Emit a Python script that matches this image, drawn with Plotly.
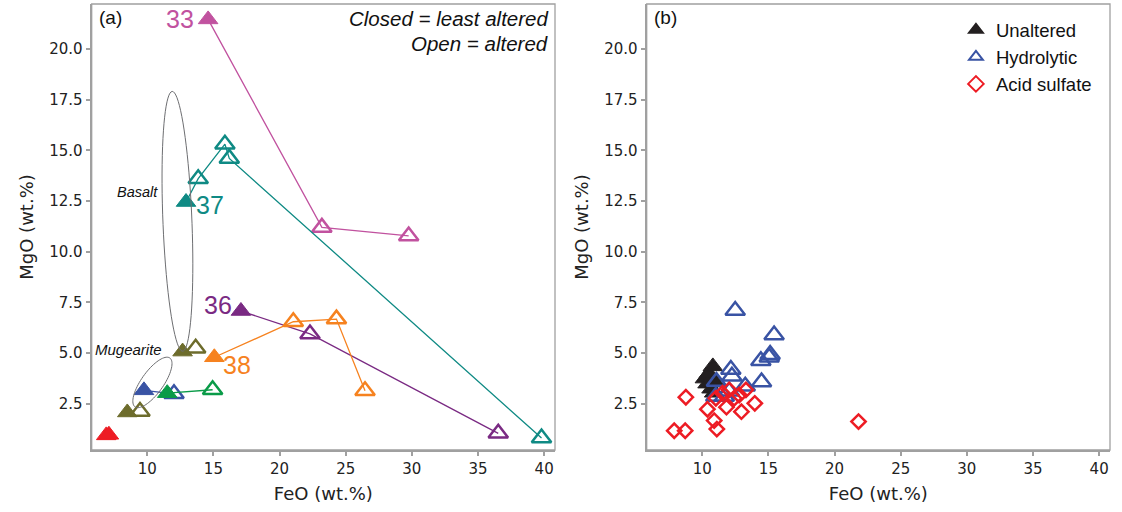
import numpy as np
import plotly.graph_objects as go

# ---------------- data: panel (a) ----------------
# each sample suite: least-altered (closed) point, then altered (open) points, in line order
s33_feo = [14.6, 23.2, 29.76]
s33_mgo = [21.45, 11.2, 10.78]
s37_feo = [12.93, 13.85, 15.87, 16.2, 39.8]
s37_mgo = [12.45, 13.6, 15.3, 14.6, 0.82]
s36_feo = [17.08, 22.3, 36.53]
s36_mgo = [7.08, 5.95, 1.05]
s38_feo = [15.07, 21.04, 24.3, 26.46]
s38_mgo = [4.8, 6.55, 6.68, 3.15]
olv1_feo = [12.67, 13.66]
olv1_mgo = [5.08, 5.24]
olv2_feo = [8.49, 9.45]
olv2_mgo = [2.08, 2.13]
blue_feo = [9.75, 12.02]
blue_mgo = [3.17, 3.0]
green_feo = [11.51, 14.94]
green_mgo = [3.03, 3.2]
red_feo = [6.9, 7.1]
red_mgo = [0.95, 0.98]

# ---------------- data: panel (b) ----------------
unalt_feo = [10.2, 10.5, 10.8, 10.7, 11.0, 10.9, 10.4]
unalt_mgo = [3.75, 4.0, 4.35, 3.25, 3.55, 3.05, 3.5]
hydro_feo = [12.49, 15.43, 15.13, 15.06, 14.43, 14.48, 12.16, 12.24, 13.25, 11.07, 11.02, 12.04, 11.67]
hydro_mgo = [7.1, 5.9, 4.93, 4.8, 4.63, 3.58, 4.2, 3.86, 3.37, 3.6, 2.87, 3.12, 2.87]
acid_feo = [8.76, 7.88, 8.71, 10.39, 10.9, 11.1, 11.03, 11.83, 12.96, 13.97, 12.03, 12.79, 13.3, 12.41, 11.53, 21.81]
acid_mgo = [2.83, 1.18, 1.18, 2.24, 1.68, 1.26, 2.78, 2.34, 2.12, 2.53, 3.19, 2.94, 3.19, 2.78, 3.03, 1.63]

x_ticks = [10, 15, 20, 25, 30, 35, 40]
y_ticks = [2.5, 5.0, 7.5, 10.0, 12.5, 15.0, 17.5, 20.0]

# ---------------- layout constants ----------------
W, H = 1122, 512
XR = [5.8, 40.82]
YR = [0.23, 22.21]
DOM_A = [91.7 / W, 555 / W]
DOM_B = [646.7 / W, 1110 / W]
DOM_Y = [1 - 450 / H, 1 - 4 / H]

px_per_x = (DOM_A[1] - DOM_A[0]) * W / (XR[1] - XR[0])
px_per_y = (DOM_Y[1] - DOM_Y[0]) * H / (YR[1] - YR[0])

C = dict(m="#c1529f", teal="#0f8a84", purple="#7a2a83", orange="#f6821f",
         olive="#6d6c2c", blue="#3953a4", green="#0a9b48", red="#ed1c24",
         black="#231f20")

fig = go.Figure()

TRI = 17
LW = 2.5


def suite(feo, mgo, color, line=True):
    if line:
        fig.add_trace(go.Scatter(x=feo, y=mgo, mode="lines", line=dict(color=color, width=1.3),
                                 showlegend=False, hoverinfo="skip", xaxis="x", yaxis="y"))
    fig.add_trace(go.Scatter(x=feo[1:], y=mgo[1:], mode="markers",
                             marker=dict(symbol="triangle-up-open", size=TRI, color=color,
                                         line=dict(color=color, width=LW)),
                             showlegend=False, xaxis="x", yaxis="y"))
    fig.add_trace(go.Scatter(x=feo[:1], y=mgo[:1], mode="markers",
                             marker=dict(symbol="triangle-up", size=TRI, color=color,
                                         line=dict(color=color, width=1)),
                             showlegend=False, xaxis="x", yaxis="y"))


suite(s33_feo, s33_mgo, C["m"])
suite(s37_feo, s37_mgo, C["teal"])
suite(s36_feo, s36_mgo, C["purple"])
suite(s38_feo, s38_mgo, C["orange"])
suite(olv1_feo, olv1_mgo, C["olive"], line=False)
suite(olv2_feo, olv2_mgo, C["olive"], line=False)
suite(blue_feo, blue_mgo, C["blue"])
suite(green_feo, green_mgo, C["green"])
fig.add_trace(go.Scatter(x=red_feo, y=red_mgo, mode="markers",
                         marker=dict(symbol="triangle-up", size=TRI, color=C["red"],
                                     line=dict(color=C["red"], width=1)),
                         showlegend=False, xaxis="x", yaxis="y"))

# panel (b)
fig.add_trace(go.Scatter(x=unalt_feo, y=unalt_mgo, mode="markers", name="Unaltered",
                         marker=dict(symbol="triangle-up", size=TRI, color=C["black"],
                                     line=dict(color=C["black"], width=1)),
                         xaxis="x2", yaxis="y2"))
fig.add_trace(go.Scatter(x=hydro_feo, y=hydro_mgo, mode="markers", name="Hydrolytic",
                         marker=dict(symbol="triangle-up-open", size=TRI, color=C["blue"],
                                     line=dict(color=C["blue"], width=LW)),
                         xaxis="x2", yaxis="y2"))
fig.add_trace(go.Scatter(x=acid_feo, y=acid_mgo, mode="markers", name="Acid sulfate",
                         marker=dict(symbol="diamond-open", size=11, color=C["red"],
                                     line=dict(color=C["red"], width=LW)),
                         xaxis="x2", yaxis="y2"))


# ---------------- ellipses (rock-type fields) ----------------
def ellipse_path(cx, cy, a_px, b_px, ang_deg, n=80):
    t = np.linspace(0, 2 * np.pi, n)
    th = np.radians(ang_deg)
    ex = a_px * np.cos(t) * np.cos(th) - b_px * np.sin(t) * np.sin(th)
    ey = a_px * np.cos(t) * np.sin(th) + b_px * np.sin(t) * np.cos(th)
    xs = cx + ex / px_per_x
    ys = cy + ey / px_per_y
    return "M " + " L ".join(f"{x:.4f},{y:.4f}" for x, y in zip(xs, ys)) + " Z"


shapes = [
    dict(type="path", xref="x", yref="y", path=ellipse_path(12.28, 11.5, 130, 14.5, 92.3),
         line=dict(color="#6d6e71", width=1)),
    dict(type="path", xref="x", yref="y", path=ellipse_path(10.39, 3.56, 30, 11, 54.5),
         line=dict(color="#6d6e71", width=1)),
]
# top / right frame lines
for xa, ya in (("x", "y"), ("x2", "y2")):
    shapes.append(dict(type="rect", xref=f"{xa} domain", yref=f"{ya} domain", x0=0, x1=1, y0=0, y1=1,
                       line=dict(color="#a0a0a0", width=1.3), layer="above"))

LAB = "Liberation Sans, Arial, sans-serif"
annotations = [
    dict(text="(a)", x=0.012, y=0.998, xref="x domain", yref="y domain", xanchor="left", yanchor="top",
         showarrow=False, font=dict(family=LAB, size=19, color="#111")),
    dict(text="(b)", x=0.012, y=0.998, xref="x2 domain", yref="y2 domain", xanchor="left", yanchor="top",
         showarrow=False, font=dict(family=LAB, size=19, color="#111")),
    dict(text="<i>Closed = least altered</i>", x=0.99, y=0.998, xref="x domain", yref="y domain",
         xanchor="right", yanchor="top", showarrow=False, font=dict(family=LAB, size=20.5, color="#111")),
    dict(text="<i>Open = altered</i>", x=0.99, y=0.942, xref="x domain", yref="y domain",
         xanchor="right", yanchor="top", showarrow=False, font=dict(family=LAB, size=20.5, color="#111")),
    dict(text="33", x=s33_feo[0], y=s33_mgo[0], xref="x", yref="y", xshift=-12, yshift=0,
         xanchor="right", yanchor="middle", showarrow=False, font=dict(family=LAB, size=25, color=C["m"])),
    dict(text="37", x=s37_feo[0], y=s37_mgo[0], xref="x", yref="y", xshift=8, yshift=-3,
         xanchor="left", yanchor="middle", showarrow=False, font=dict(family=LAB, size=25, color=C["teal"])),
    dict(text="36", x=s36_feo[0], y=s36_mgo[0], xref="x", yref="y", xshift=-7, yshift=6,
         xanchor="right", yanchor="middle", showarrow=False, font=dict(family=LAB, size=25, color=C["purple"])),
    dict(text="38", x=s38_feo[0], y=s38_mgo[0], xref="x", yref="y", xshift=7, yshift=-8,
         xanchor="left", yanchor="middle", showarrow=False, font=dict(family=LAB, size=25, color=C["orange"])),
    dict(text="<i>Basalt</i>", x=10.95, y=12.95, xref="x", yref="y", xanchor="right", yanchor="middle",
         showarrow=False, font=dict(family=LAB, size=14.5, color="#111")),
    dict(text="<i>Mugearite</i>", x=11.25, y=5.16, xref="x", yref="y", xanchor="right", yanchor="middle",
         showarrow=False, font=dict(family=LAB, size=15, color="#111")),
]

TICKF = dict(family="DejaVu Sans, Verdana, sans-serif", size=15, color="#222")
TITF = dict(family="DejaVu Sans, Verdana, sans-serif", size=18, color="#222")
ax_common = dict(showline=True, linecolor="#a0a0a0", linewidth=2.2, mirror=False,
                 ticks="outside", ticklen=4, tickwidth=2, tickcolor="#a0a0a0",
                 showgrid=False, zeroline=False, tickfont=TICKF, automargin=False)

fig.update_layout(
    width=W, height=H, margin=dict(l=0, r=0, t=0, b=0),
    paper_bgcolor="white", plot_bgcolor="white",
    xaxis=dict(domain=DOM_A, range=XR, tickvals=x_ticks, anchor="y",
               title=dict(text="FeO (wt.%)", font=TITF, standoff=10), **ax_common),
    yaxis=dict(domain=DOM_Y, range=YR, tickvals=y_ticks, tickformat=".1f", anchor="x",
               title=dict(text="MgO (wt.%)", font=TITF, standoff=11), **ax_common),
    xaxis2=dict(domain=DOM_B, range=XR, tickvals=x_ticks, anchor="y2",
                title=dict(text="FeO (wt.%)", font=TITF, standoff=10), **ax_common),
    yaxis2=dict(domain=DOM_Y, range=YR, tickvals=y_ticks, tickformat=".1f", anchor="x2",
                title=dict(text="MgO (wt.%)", font=TITF, standoff=11), **ax_common),
    legend=dict(x=0.852, y=0.978, xanchor="left", yanchor="top", bgcolor="rgba(0,0,0,0)",
                font=dict(family=LAB, size=18.5, color="#111"), itemsizing="constant",
                tracegroupgap=0),
    shapes=shapes, annotations=annotations,
)

fig.write_html("out.html")
